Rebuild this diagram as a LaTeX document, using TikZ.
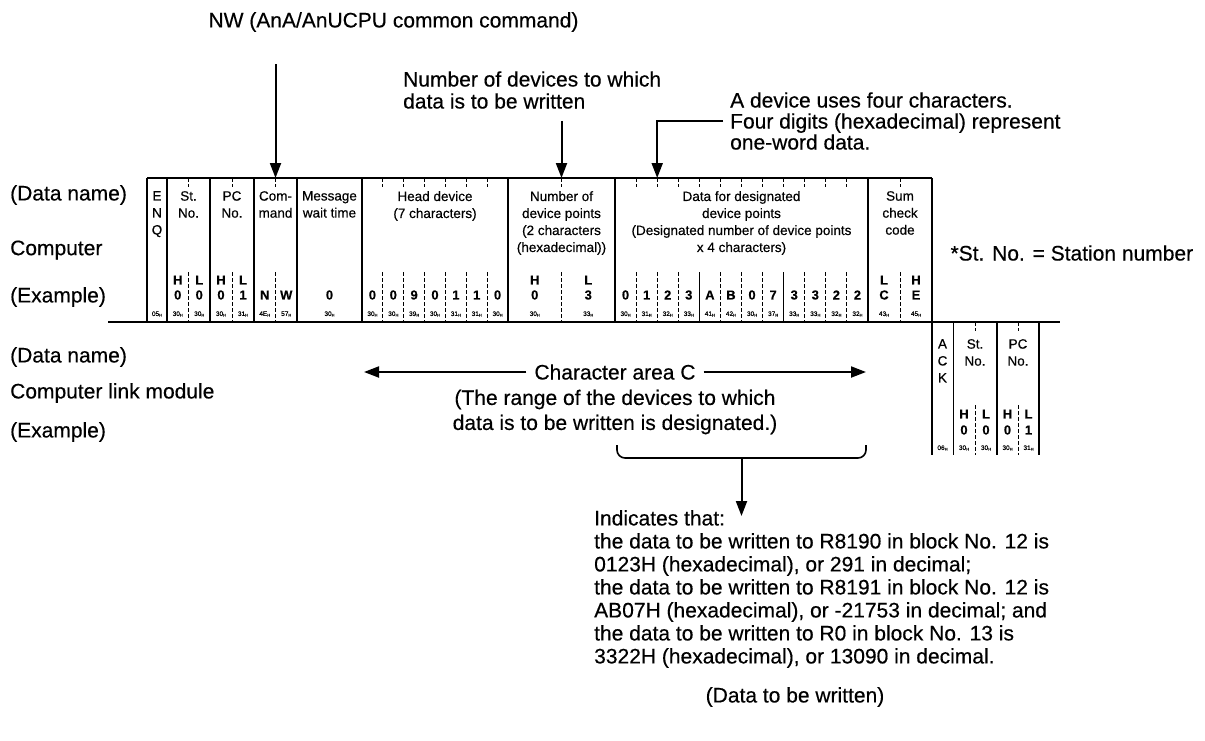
\documentclass[tikz,border=0pt]{standalone}
\usepackage{fontspec}
\setmainfont{Liberation Sans}[FakeBold=0.4]
\usetikzlibrary{arrows.meta,positioning}

\newcommand\hsub{\raisebox{-0.6pt}{\fontsize{4}{4}\selectfont H}}

\begin{document}
\begin{tikzpicture}[
  x=1pt, y=-1pt,
  font=\fontsize{21}{23}\selectfont,
  rowlbl/.style={anchor=west, inner sep=0pt},
  hdr/.style={anchor=north, align=center, inner sep=0pt, font=\fontsize{13.5}{17}\selectfont},
  chr/.style={inner sep=0pt, font=\fontsize{13}{13}\selectfont\bfseries},
  hex/.style={inner sep=0pt, font=\fontsize{6.5}{7}\selectfont},
  frm/.style={line width=1.6pt},
  sepl/.style={line width=1pt, dash pattern=on 3.5pt off 2.5pt},
  arr/.style={line width=2pt, -{Triangle[width=11pt,length=15pt]}},
]
\useasboundingbox (0,0) rectangle (1205,740);

% row labels
\node[rowlbl] (cdname) at (10,195) {(Data name)};
\node[rowlbl] (cname) at (10,250) {Computer};
\node[rowlbl] (cex) at (10,297) {(Example)};
\node[rowlbl] (mdname) at (10,357) {(Data name)};
\node[rowlbl] (mname) at (10,393) {Computer link module};
\node[rowlbl] (mex) at (10,432) {(Example)};

% computer frame
\draw[frm] (147,178) -- (932,178);
\draw[frm] (108,322) -- (1060,322);
\foreach \x in {147,167,210,254,297,362,508,615,868,932} { \draw[frm] (\x,178) -- (\x,322); }

\node[hdr] (henq) at (157,191) {E\\N\\Q};
\node[hdr] (hst) at (188.5,191) {St.\\No.};
\node[hdr] (hpc) at (232,191) {PC\\No.};
\node[hdr] (hcmd) at (275.5,191) {Com-\\mand};
\node[hdr] (hmsg) at (329.5,191) {Message\\wait time};
\node[hdr] (hhead) at (435,191) {Head device\\(7 characters)};
\node[hdr] (hnum) at (561.5,191) {Number of\\device points\\(2 characters\\(hexadecimal))};
\node[hdr] (hdata) at (741.5,191) {Data for designated\\device points\\(Designated number of device points\\x 4 characters)};
\node[hdr] (hsum) at (900,191) {Sum\\check\\code};

\node[hex] (enq-x1) at (157,314) {05\hsub};
\foreach \nm/\xa/\n/\w/\chars/\hexs in {
  st/167/2/21.5/{0,0}/{30,30},
  pc/210/2/22/{0,1}/{30,31},
  cmd/254/2/21.5/{N,W}/{4E,57},
  msg/297/1/65/{0}/{30},
  head/362/7/20.857/{0,0,9,0,1,1,0}/{30,30,39,30,31,31,30},
  num/508/2/53.5/{0,3}/{30,33},
  data/615/12/21.083/{0,1,2,3,A,B,0,7,3,3,2,2}/{30,31,32,33,41,42,30,37,33,33,32,32},
  sum/868/2/32/{C,E}/{43,45}} {
  \foreach \c [count=\i] in \chars { \node[chr] (\nm-c\i) at (\xa+\i*\w-0.5*\w,295) {\c}; }
  \foreach \h [count=\i] in \hexs { \node[hex] (\nm-x\i) at (\xa+\i*\w-0.5*\w,314) {\h\hsub}; }
  \foreach \i in {1,...,\n} {
    \ifnum\i<\n
      \draw[sepl] (\xa+\i*\w,178) -- (\xa+\i*\w,187);
      \draw[sepl] (\xa+\i*\w,272) -- (\xa+\i*\w,322);
    \fi
  }
}
\foreach \x in {699.33,783.67} { \draw[frm] (\x,272) -- (\x,322); }

\foreach \nm/\xa/\w/\a/\b in {st/167/21.5/H/L, pc/210/22/H/L, num/508/53.5/H/L, sum/868/32/L/H} {
  \node[chr] (\nm-hl1) at (\xa+0.5*\w,280) {\a};
  \node[chr] (\nm-hl2) at (\xa+1.5*\w,280) {\b};
}

\node[anchor=west] (stnote) at (947,253) {*St. No. = Station number};

% computer link module frame
\foreach \x in {932,997,1039} { \draw[frm] (\x,322) -- (\x,455); }
\draw[line width=1pt] (953,322) -- (953,455);
\node[hdr] (hack) at (942.5,339) {A\\C\\K};
\node[hdr] (hrst) at (975,339) {St.\\No.};
\node[hdr] (hrpc) at (1018,339) {PC\\No.};
\node[hex] (ack-x1) at (942.5,448) {06\hsub};
\foreach \nm/\xa/\w/\chars/\hexs in {rst/953/22/{0,0}/{30,30}, rpc/997/21/{0,1}/{30,31}} {
  \node[chr] (\nm-hl1) at (\xa+0.5*\w,414) {H};
  \node[chr] (\nm-hl2) at (\xa+1.5*\w,414) {L};
  \foreach \c [count=\i] in \chars { \node[chr] (\nm-c\i) at (\xa+\i*\w-0.5*\w,430) {\c}; }
  \foreach \h [count=\i] in \hexs { \node[hex] (\nm-x\i) at (\xa+\i*\w-0.5*\w,448) {\h\hsub}; }
  \draw[sepl] (\xa+\w,322) -- (\xa+\w,331);
  \draw[sepl] (\xa+\w,405) -- (\xa+\w,455);
}

% callouts
\node[anchor=west] (nwlbl) at (205,22) {NW (AnA/AnUCPU common command)};
\coordinate (nwtail) at (275.5,64);
\coordinate (cmdtop) at (275.5,178);
\draw[arr] (nwtail) -- (cmdtop);

\node[anchor=west, align=left, inner sep=0pt, font=\fontsize{21}{22}\selectfont] (numlbl) at (403,90) {Number of devices to which\\data is to be written};
\coordinate (numtop) at (561.5,178);
\draw[arr] ([yshift=-12pt]numlbl.south -| numtop) -- (numtop);

\node[anchor=west, align=left, inner sep=0pt, font=\fontsize{21}{21}\selectfont] (devlbl) at (730,121) {A device uses four characters.\\Four digits (hexadecimal) represent\\one-word data.};
\coordinate (devlink) at (723,121);
\coordinate (datatop) at (657.2,178);
\draw[arr] (devlink) -| (datatop);

\node[fill=white, inner xsep=8pt] (carea) at (615,372) {Character area C};
\coordinate (caleft) at (364,372);
\coordinate (caright) at (866,372);
\draw[arr] (carea) -- (caleft);
\draw[arr] (carea) -- (caright);

\node[align=center, font=\fontsize{21}{25}\selectfont] (range) at (615,412) {(The range of the devices to which\\data is to be written is designated.)};

\draw[frm, rounded corners=8pt] (617,445) -- (617,458) -- (866,458) -- (866,445);
\coordinate (brmid) at (741.5,458);
\coordinate (indtip) at (741.5,516);
\draw[arr] (brmid) -- (indtip);

\node[anchor=north west, align=left, inner sep=0pt] (note) at (594,510)
  {Indicates that:\\
   the data to be written to R8190 in block No. 12 is\\
   0123H (hexadecimal), or 291 in decimal;\\
   the data to be written to R8191 in block No. 12 is\\
   AB07H (hexadecimal), or -21753 in decimal; and\\
   the data to be written to R0 in block No. 13 is\\
   3322H (hexadecimal), or 13090 in decimal.};

\node (written) at (795,697) {(Data to be written)};
\end{tikzpicture}
\end{document}
